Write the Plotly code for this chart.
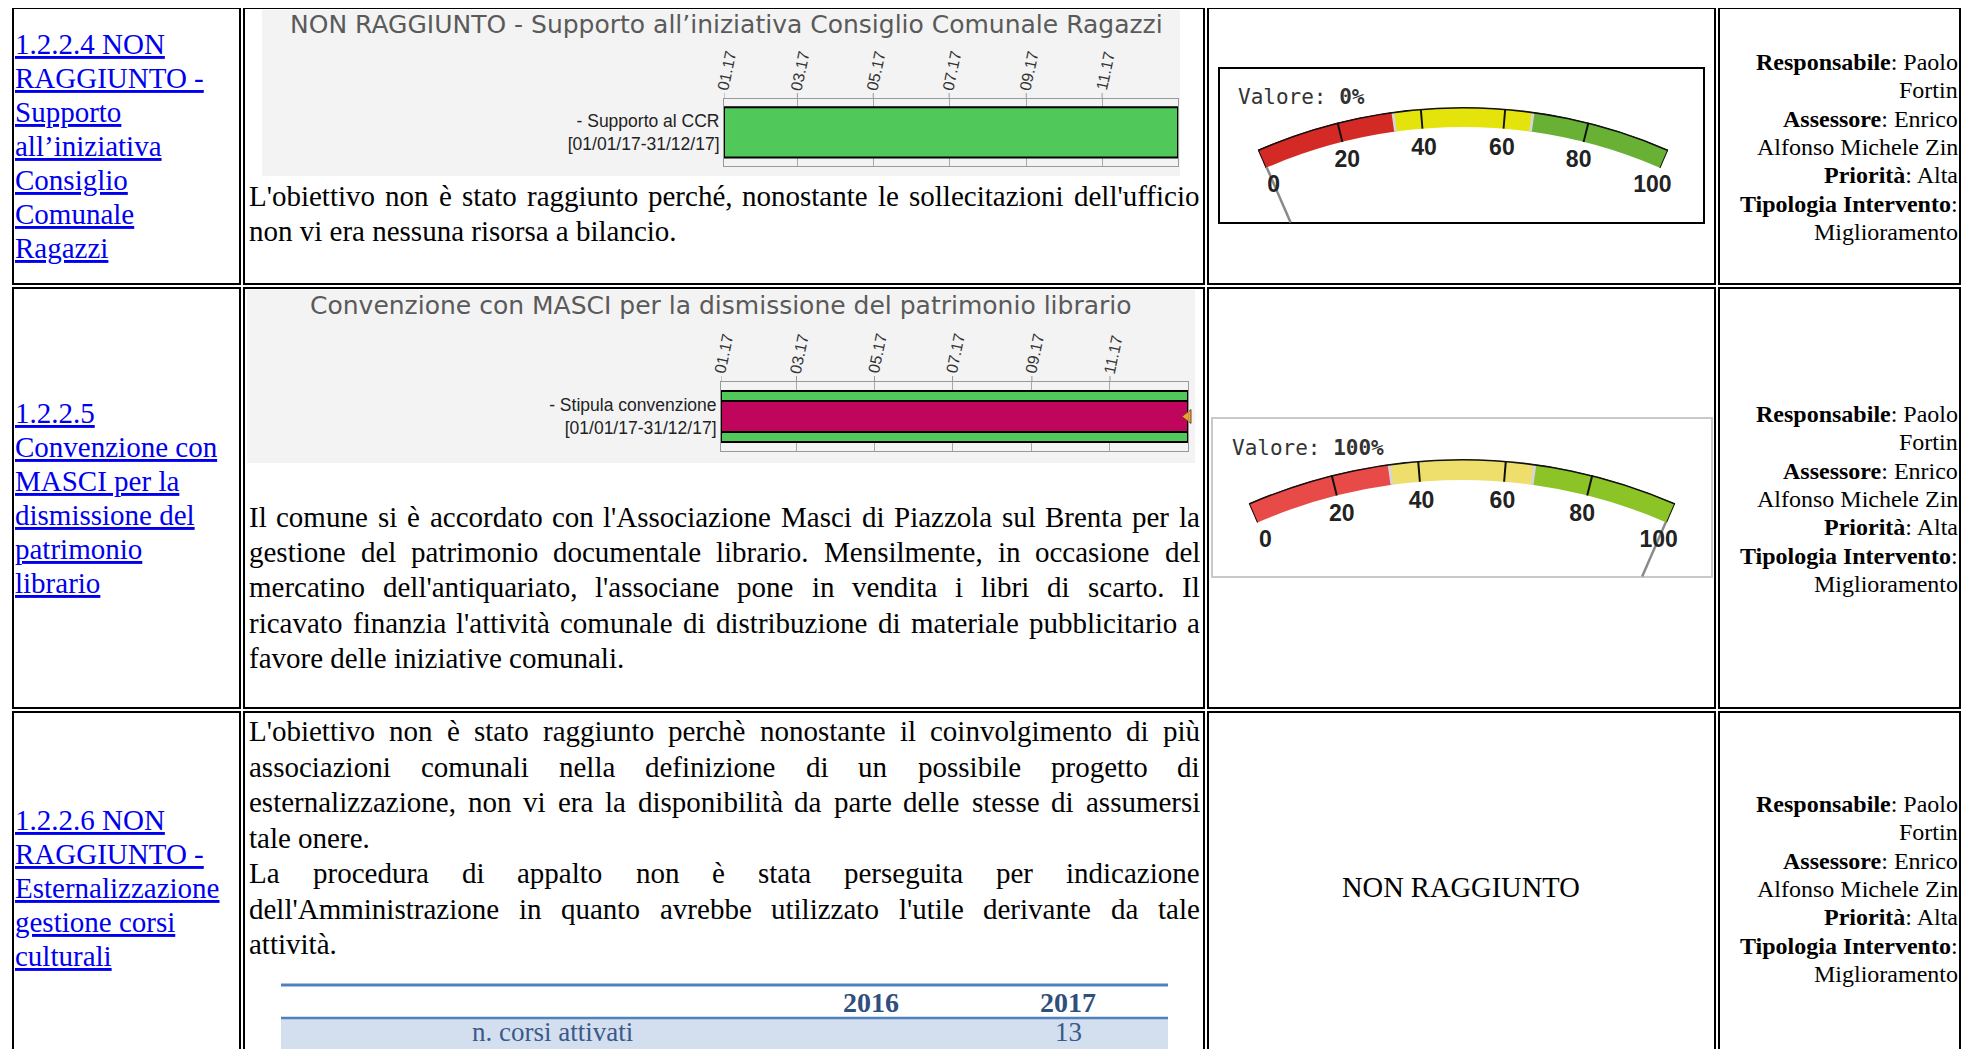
import math
import pandas as pd
import plotly.graph_objects as go

# ---------------------------------------------------------------- data
LINK_ROW1 = ["1.2.2.4 NON", "RAGGIUNTO -", "Supporto", "all’iniziativa", "Consiglio", "Comunale", "Ragazzi"]
LINK_ROW2 = ["1.2.2.5", "Convenzione con", "MASCI per la", "dismissione del", "patrimonio", "librario"]
LINK_ROW3 = ["1.2.2.6 NON", "RAGGIUNTO -", "Esternalizzazione", "gestione corsi", "culturali"]

TEXT_ROW1 = ["L'obiettivo non è stato raggiunto perché, nonostante le sollecitazioni dell'ufficio",
             "non vi era nessuna risorsa a bilancio."]
JUST_ROW1 = [True, False]
TEXT_ROW2 = ["Il comune si è accordato con l'Associazione Masci di Piazzola sul Brenta per la",
             "gestione del patrimonio documentale librario. Mensilmente, in occasione del",
             "mercatino dell'antiquariato, l'associane pone in vendita i libri di scarto. Il",
             "ricavato finanzia l'attività comunale di distribuzione di materiale pubblicitario a",
             "favore delle iniziative comunali."]
JUST_ROW2 = [True, True, True, True, False]
TEXT_ROW3 = ["L'obiettivo non è stato raggiunto perchè nonostante il coinvolgimento di più",
             "associazioni comunali nella definizione di un possibile progetto di",
             "esternalizzazione, non vi era la disponibilità da parte delle stesse di assumersi",
             "tale onere.",
             "La procedura di appalto non è stata perseguita per indicazione",
             "dell'Amministrazione in quanto avrebbe utilizzato l'utile derivante da tale",
             "attività."]
JUST_ROW3 = [True, True, True, False, True, True, False]

INFO_LINES = ["<b>Responsabile</b>: Paolo", "Fortin", "<b>Assessore</b>: Enrico",
              "Alfonso Michele Zin", "<b>Priorità</b>: Alta", "<b>Tipologia Intervento</b>:",
              "Miglioramento"]
STATUS_ROW3 = "NON RAGGIUNTO"

GANTT_TITLES = ["NON RAGGIUNTO - Supporto all’iniziativa Consiglio Comunale Ragazzi",
                "Convenzione con MASCI per la dismissione del patrimonio librario"]
GANTT_TASKS = ["- Supporto al CCR<br>[01/01/17-31/12/17]",
               "- Stipula convenzione<br>[01/01/17-31/12/17]"]
PLAN_START = ["2017-01-01", "2017-01-01"]
PLAN_END = ["2017-12-31", "2017-12-31"]
ACTUAL_START = [None, "2017-01-01"]
ACTUAL_END = [None, "2017-12-31"]
AXIS_RANGE = ["2017-01-01", "2018-01-01"]
MONTH_TICKS = ["2017-01-01", "2017-03-01", "2017-05-01", "2017-07-01", "2017-09-01", "2017-11-01"]
MONTH_LABELS = ["01.17", "03.17", "05.17", "07.17", "09.17", "11.17"]

GAUGE_VALUES = [0, 100]
BAND_EDGES = [0, 100 / 3, 200 / 3, 100]
GAUGE_TICKS = [20, 40, 60, 80]
GAUGE_LABELS = [0, 20, 40, 60, 80, 100]

TABLE_YEARS = ["2016", "2017"]
TABLE_ROW_LABEL = "n. corsi attivati"
TABLE_VALUES = ["", "13"]

# ---------------------------------------------------------------- page geometry
OFF = 8
W, H = 1957, 1041


def fx(px):
    return (px - OFF) / W


def fy(py):
    return 1 - (py - OFF) / H


COLS = [(13, 240), (244, 1204), (1208, 1715), (1719, 1960)]
ROWS = [(8, 284), (288, 708), (712, 1075)]

SERIF = "Liberation Serif, Times New Roman, serif"
SANS = "Liberation Sans, Arial, sans-serif"

# Times New Roman advance widths (1/1000 em)
TNR = {' ': 250, "'": 180, '’': 333, ',': 250, '.': 250, '-': 333, ':': 278, '/': 278,
       'a': 444, 'b': 500, 'c': 444, 'd': 500, 'e': 444, 'f': 333, 'g': 500, 'h': 500,
       'i': 278, 'j': 278, 'k': 500, 'l': 278, 'm': 778, 'n': 500, 'o': 500, 'p': 500,
       'q': 500, 'r': 333, 's': 389, 't': 278, 'u': 500, 'v': 500, 'w': 722, 'x': 500,
       'y': 500, 'z': 444, 'A': 722, 'B': 667, 'C': 667, 'D': 722, 'E': 611, 'F': 556,
       'G': 722, 'H': 722, 'I': 333, 'J': 389, 'K': 722, 'L': 611, 'M': 889, 'N': 722,
       'O': 722, 'P': 556, 'Q': 722, 'R': 667, 'S': 556, 'T': 611, 'U': 722, 'V': 722,
       'W': 944, 'X': 722, 'Y': 722, 'Z': 611, 'è': 444, 'é': 444, 'à': 444, 'ì': 278,
       'ò': 500, 'ù': 500}


def text_w(s, size):
    return sum(TNR.get(c, 500) for c in s) / 1000 * size


fig = go.Figure()
shapes = []
annotations = []


def ann(x, y, text, xanchor="left", size=29, color="black", family=SERIF, **font_extra):
    annotations.append(dict(x=x, y=y, xref="x", yref="y", text=text, showarrow=False,
                            xanchor=xanchor, yanchor="middle", borderpad=0, borderwidth=0,
                            font=dict(family=family, size=size, color=color, **font_extra)))


# ---------------------------------------------------------------- table borders
for (y0, y1) in ROWS:
    for (x0, x1) in COLS:
        shapes.append(dict(type="rect", xref="x", yref="y", x0=x0, x1=x1, y0=y0, y1=y1,
                           line=dict(color="black", width=2), layer="above"))

# ---------------------------------------------------------------- column 1 links
for lines, y0 in [(LINK_ROW1, 44), (LINK_ROW2, 413), (LINK_ROW3, 820)]:
    for i, ln in enumerate(lines):
        ann(15, y0 + i * 34, ln, color="#0000ee", lineposition="under")

# ---------------------------------------------------------------- column 2 text (justified)
TX0, TX1 = 249, 1200
TSIZE = 29


def add_par(lines, just, y0, dy):
    for k, (ln, j) in enumerate(zip(lines, just)):
        y = y0 + k * dy
        if not j:
            ann(TX0, y, ln, size=TSIZE)
            continue
        words = ln.split(" ")
        ws = [text_w(w_, TSIZE) for w_ in words]
        gap = (TX1 - TX0 - sum(ws)) / (len(words) - 1)
        x = TX0
        for i, w_ in enumerate(words):
            if i == len(words) - 1:
                ann(TX1, y, w_, xanchor="right", size=TSIZE)
            else:
                ann(x, y, w_, size=TSIZE)
            x += ws[i] + gap


add_par(TEXT_ROW1, JUST_ROW1, 196, 35)
add_par(TEXT_ROW2, JUST_ROW2, 517, 35.2)
add_par(TEXT_ROW3, JUST_ROW3, 731, 35.5)

# ---------------------------------------------------------------- column 4 info
for y0 in (62, 414, 804):
    for i, ln in enumerate(INFO_LINES):
        ann(1958, y0 + i * 28.3, ln, xanchor="right", size=24)

# column 3 row 3 status
ann(1461, 887, STATUS_ROW3, xanchor="center", size=28.5)

# ---------------------------------------------------------------- gantt charts
GANTT_BG = [(262, 10, 1180, 176), (247, 290, 1195, 463)]
GANTT_TITLE_POS = [(726, 24), (721, 305)]
GANTT_PLOT = [(724, 99, 1178, 166), (721, 382, 1188, 451)]
PLAN_WIDTH = [0.75, 0.74]
ACT_WIDTH = 0.45
TICK_LEN_PX = 6


def dur_ms(s, e):
    return int((pd.Timestamp(e) + pd.Timedelta(days=1) - pd.Timestamp(s)) / pd.Timedelta(milliseconds=1))


layout_axes = {}
for g in range(2):
    xa, ya = f"x{g + 2}", f"y{g + 2}"
    bx0, by0, bx1, by1 = GANTT_BG[g]
    px0, py0, px1, py1 = GANTT_PLOT[g]
    ph = py1 - py0
    shapes.append(dict(type="rect", xref="x", yref="y", x0=bx0, x1=bx1, y0=by0, y1=by1,
                       fillcolor="#f3f3f3", line=dict(width=0), layer="below"))
    tx, ty = GANTT_TITLE_POS[g]
    ann(tx, ty, GANTT_TITLES[g], xanchor="center", size=25, color="#5a5a5a",
        family="DejaVu Sans, Verdana, sans-serif")
    # plot area background + alternating month bands
    shapes.append(dict(type="rect", xref=xa, yref=f"{ya} domain", x0=AXIS_RANGE[0], x1=AXIS_RANGE[1],
                       y0=0, y1=1, fillcolor="white", line=dict(width=0), layer="below"))
    bounds = MONTH_TICKS + [AXIS_RANGE[1]]
    for i in range(len(MONTH_TICKS)):
        if i % 2 == 1:
            shapes.append(dict(type="rect", xref=xa, yref=f"{ya} domain", x0=bounds[i], x1=bounds[i + 1],
                               y0=0, y1=1, fillcolor="#e6e6e6", line=dict(width=0), layer="below"))
        # tick marks above the plot frame
        shapes.append(dict(type="line", xref=xa, yref=f"{ya} domain", x0=MONTH_TICKS[i], x1=MONTH_TICKS[i],
                           y0=1, y1=1 + TICK_LEN_PX / ph, line=dict(color="#999999", width=1)))
        # rotated month labels sitting right on top of the tick marks
        annotations.append(dict(x=MONTH_TICKS[i], y=1 + (TICK_LEN_PX + 1) / ph, xref=xa,
                                yref=f"{ya} domain", text=MONTH_LABELS[i], showarrow=False,
                                textangle=-78, xanchor="center", yanchor="bottom", xshift=3,
                                borderpad=0, borderwidth=0,
                                font=dict(family=SANS, size=16, color="#333333")))
    fig.add_trace(go.Bar(orientation="h", y=[0], base=[PLAN_START[g]],
                         x=[dur_ms(PLAN_START[g], PLAN_END[g])], width=PLAN_WIDTH[g],
                         marker=dict(color="#50c85a", line=dict(color="black", width=2)),
                         xaxis=xa, yaxis=ya, hoverinfo="skip"))
    if ACTUAL_START[g] is not None:
        fig.add_trace(go.Bar(orientation="h", y=[0], base=[ACTUAL_START[g]],
                             x=[dur_ms(ACTUAL_START[g], ACTUAL_END[g])], width=ACT_WIDTH,
                             marker=dict(color="#c0065c", line=dict(color="black", width=2)),
                             xaxis=xa, yaxis=ya, hoverinfo="skip"))
        fig.add_trace(go.Scatter(x=[AXIS_RANGE[1]], y=[0], mode="markers", cliponaxis=False,
                                 marker=dict(symbol="triangle-left", size=12, color="#f2a12c",
                                             line=dict(color="#7a4a10", width=1)),
                                 xaxis=xa, yaxis=ya, hoverinfo="skip"))
    layout_axes[f"xaxis{g + 2}"] = dict(
        domain=[fx(px0), fx(px1)], anchor=ya, type="date", range=AXIS_RANGE, side="top",
        tickvals=MONTH_TICKS, ticks="", showticklabels=False,
        showgrid=True, gridcolor="#a8a8a8", gridwidth=1, showline=True, mirror=True,
        linecolor="#999999", linewidth=1, zeroline=False, fixedrange=True)
    layout_axes[f"yaxis{g + 2}"] = dict(
        domain=[fy(py1), fy(py0)], anchor=xa, range=[-0.5, 0.5], tickvals=[0],
        ticktext=[GANTT_TASKS[g]], ticks="", tickfont=dict(family=SANS, size=17.5, color="#222222"),
        showgrid=False, zeroline=False, showline=True, mirror=True, linecolor="#999999",
        linewidth=1, fixedrange=True)

# ---------------------------------------------------------------- gauges
HALF = 23.5                      # half opening angle of the gauge arc (degrees)
SPAN = 2 * HALF
K = SPAN / 100.0                 # degrees per percentage point
GAUGE_BOX = [(1219, 68, 1704, 223, "black"), (1212, 418, 1712, 577, "#c9c9c9")]
GAUGE_GEOM = [dict(cx=1463, cy=622, R=515, band=20, label="Valore: ", lx=1238, ly=97),
              dict(cx=1462, cy=994, R=535, band=21, label="Valore: ", lx=1232, ly=448)]
GAUGE_COLORS = [["#d42a25", "#e4e40c", "#68b134"], ["#e84a48", "#eedf6c", "#8cc326"]]
NEEDLE_END = [0.845, 0.85]

for gi in range(2):
    bx0, by0, bx1, by1, bc = GAUGE_BOX[gi]
    shapes.append(dict(type="rect", xref="x", yref="y", x0=bx0, x1=bx1, y0=by0, y1=by1,
                       fillcolor="white", line=dict(color=bc, width=2), layer="below"))
    geo = GAUGE_GEOM[gi]
    pk = "polar" if gi == 0 else "polar2"
    s = math.sin(math.radians(HALF))
    rin = 1 - geo["band"] / geo["R"]
    for b in range(3):
        a0, a1 = BAND_EDGES[b], BAND_EDGES[b + 1]
        fig.add_trace(go.Barpolar(theta=[(a0 + a1) / 2 * K], width=[(a1 - a0) * K], base=[rin],
                                  r=[1 - rin], marker=dict(color=GAUGE_COLORS[gi][b], line=dict(width=0)),
                                  subplot=pk, hoverinfo="skip"))
    fig.add_trace(go.Barpolar(theta=[v * K for v in BAND_EDGES[1:3]], width=[0.32, 0.32],
                              base=[rin, rin], r=[1 - rin, 1 - rin],
                              marker=dict(color="#d6d6d6", line=dict(width=0)),
                              subplot=pk, hoverinfo="skip"))
    tick_vals = [BAND_EDGES[0]] + GAUGE_TICKS + [BAND_EDGES[-1]]
    fig.add_trace(go.Barpolar(theta=[v * K for v in tick_vals], width=[0.22] * len(tick_vals),
                              base=[rin] * len(tick_vals), r=[1 - rin] * len(tick_vals),
                              marker=dict(color="#111111", line=dict(width=0)),
                              subplot=pk, hoverinfo="skip"))
    fig.add_trace(go.Barpolar(theta=[SPAN / 2], width=[SPAN], base=[0.997], r=[0.004],
                              marker=dict(color="#111111", line=dict(width=0)),
                              subplot=pk, hoverinfo="skip"))
    v = GAUGE_VALUES[gi]
    fig.add_trace(go.Scatterpolar(theta=[v * K, v * K], r=[rin, NEEDLE_END[gi]], mode="lines",
                                  line=dict(color="#8a8a8a", width=5), subplot=pk, hoverinfo="skip"))
    fig.add_trace(go.Scatterpolar(theta=[l * K for l in GAUGE_LABELS], r=[0.922] * len(GAUGE_LABELS),
                                  mode="text", text=[str(l) for l in GAUGE_LABELS],
                                  textfont=dict(family=SANS, size=23, color="#222222", weight="bold"),
                                  cliponaxis=False, subplot=pk, hoverinfo="skip"))
    ann(geo["lx"], geo["ly"], f"{geo['label']}<b>{v}%</b>", size=21, color="#333333",
        family="DejaVu Sans Mono, monospace")
    R = geo["R"]
    fig.update_layout(**{pk: dict(
        domain=dict(x=[fx(geo["cx"] - R * s), fx(geo["cx"] + R * s)],
                    y=[fy(geo["cy"]), fy(geo["cy"] - R)]),
        sector=[90 - HALF, 90 + HALF], bgcolor="rgba(0,0,0,0)", barmode="overlay",
        angularaxis=dict(visible=False, rotation=90 + HALF, direction="clockwise", thetaunit="degrees"),
        radialaxis=dict(visible=False, range=[0, 1]))})

# ---------------------------------------------------------------- small data table (row 3)
TB_X0, TB_X1 = 281, 1168
shapes.append(dict(type="rect", xref="x", yref="y", x0=TB_X0, x1=TB_X1, y0=1019, y1=1049,
                   fillcolor="#d3dfee", line=dict(width=0), layer="below"))
for yy, wd in [(985, 3), (1018, 2.5)]:
    shapes.append(dict(type="line", xref="x", yref="y", x0=TB_X0, x1=TB_X1, y0=yy, y1=yy,
                       line=dict(color="#4f81bd", width=wd), layer="above"))
YEAR_X = [871, 1068]
for yr, xx, val in zip(TABLE_YEARS, YEAR_X, TABLE_VALUES):
    ann(xx, 1002, f"<b>{yr}</b>", xanchor="center", size=28, color="#2f4f7f")
    if val:
        ann(xx, 1032, val, xanchor="center", size=27, color="#3a5a8c")
ann(552, 1032, TABLE_ROW_LABEL, xanchor="center", size=27, color="#3a5a8c")

# ---------------------------------------------------------------- layout
fig.update_layout(
    width=W, height=H, margin=dict(l=0, r=0, t=0, b=0, pad=0),
    paper_bgcolor="white", plot_bgcolor="rgba(0,0,0,0)", showlegend=False,
    hovermode=False, barmode="overlay",
    xaxis=dict(domain=[0, 1], range=[OFF, OFF + W], visible=False, fixedrange=True),
    yaxis=dict(domain=[0, 1], range=[OFF + H, OFF], visible=False, fixedrange=True),
    shapes=shapes, annotations=annotations, **layout_axes)

fig.write_html("out.html")
